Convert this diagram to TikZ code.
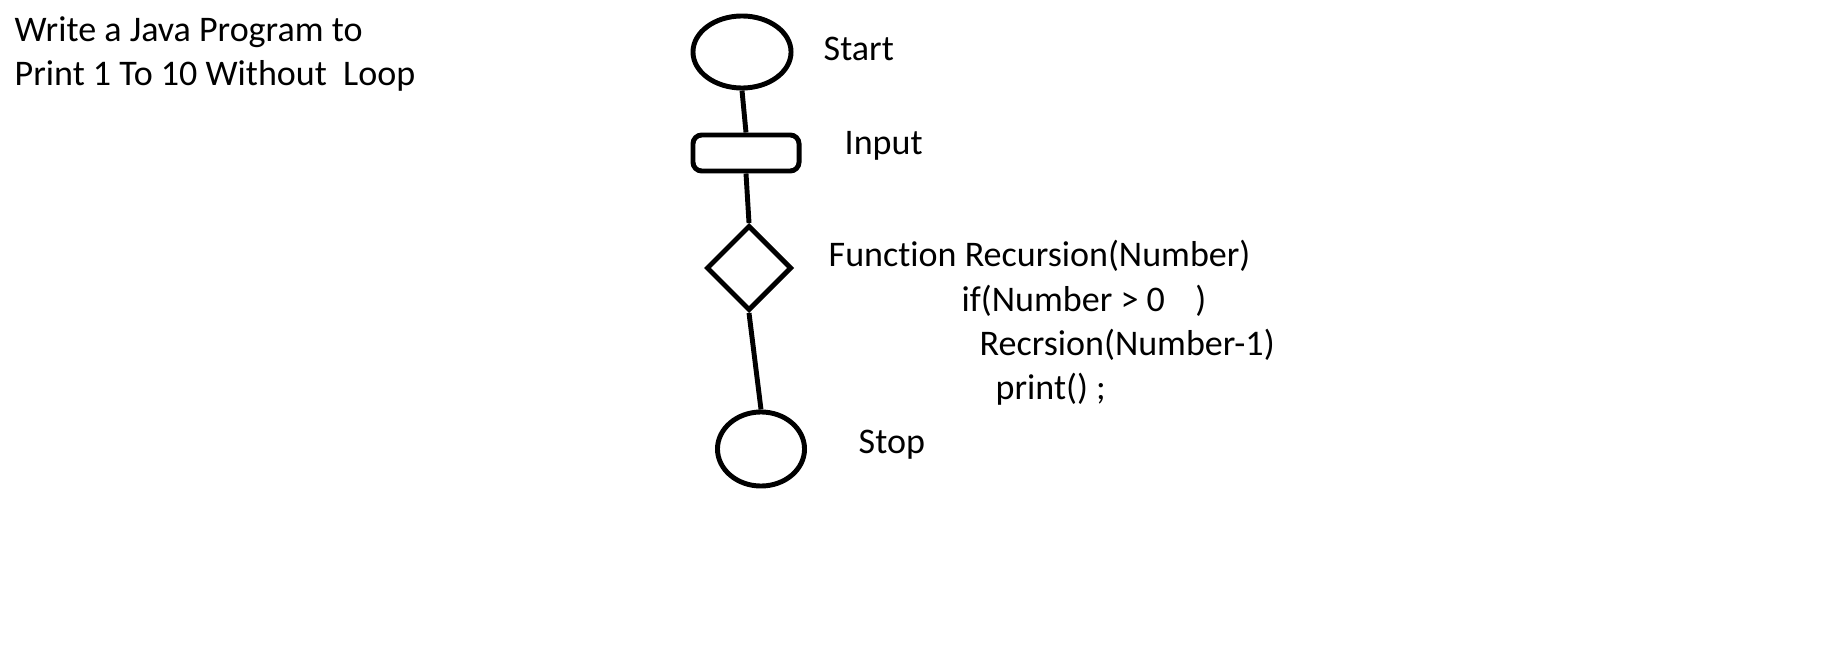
\documentclass[tikz,border=0pt]{standalone}
\usepackage{fontspec}
\setmainfont{Carlito}[Ligatures={NoCommon,NoContextual}]
\usetikzlibrary{shapes.geometric}

\tikzset{
  flow/.style={draw, line width=1.4pt, inner sep=0pt},
  terminal/.style={flow, ellipse},
  io/.style={flow, rectangle, rounded corners=2.5pt},
  decision/.style={flow, diamond},
  txt/.style={anchor=base west, inner sep=0pt, font=\fontsize{10.25}{12}\selectfont},
  link/.style={line width=1.4pt}
}

\begin{document}
\begin{tikzpicture}[x=0.01cm, y=-0.01cm]
    \useasboundingbox (0,0) rectangle (1825,664);

    % Title
    \node[txt] (title1) at (14,42) {Write a Java Program to};
    \node[txt] (title2) at (14,86) {Print 1 To 10 Without\ \ Loop};

    % Flowchart shapes
    \node[terminal, minimum width=0.98cm, minimum height=0.72cm] (start) at (742,52) {};
    \node[io, minimum width=1.06cm, minimum height=0.36cm] (input) at (746,153) {};
    \node[decision, minimum width=0.85cm, minimum height=0.85cm] (cond) at (749,268) {};
    \node[terminal, minimum width=0.87cm, minimum height=0.74cm] (stop) at (761,449) {};

    % Connectors
    \draw[link] (start.south) -- (input.north);
    \draw[link] (input.south) -- (cond.north);
    \draw[link] (cond.south) -- (stop.north);

    % Labels
    \node[txt] (startlbl) at (823,61) {Start};
    \node[txt] (inputlbl) at (844,154) {Input};
    \node[txt] (code1) at (828,266) {Function Recursion(Number)};
    \node[txt] (code2) at (961,311) {if(Number > 0\ \ \ \,)};
    \node[txt] (code3) at (979,355) {Recrsion(Number-1)};
    \node[txt] (code4) at (995,399) {print() ;};
    \node[txt] (stoplbl) at (858,453) {Stop};

\end{tikzpicture}
\end{document}
